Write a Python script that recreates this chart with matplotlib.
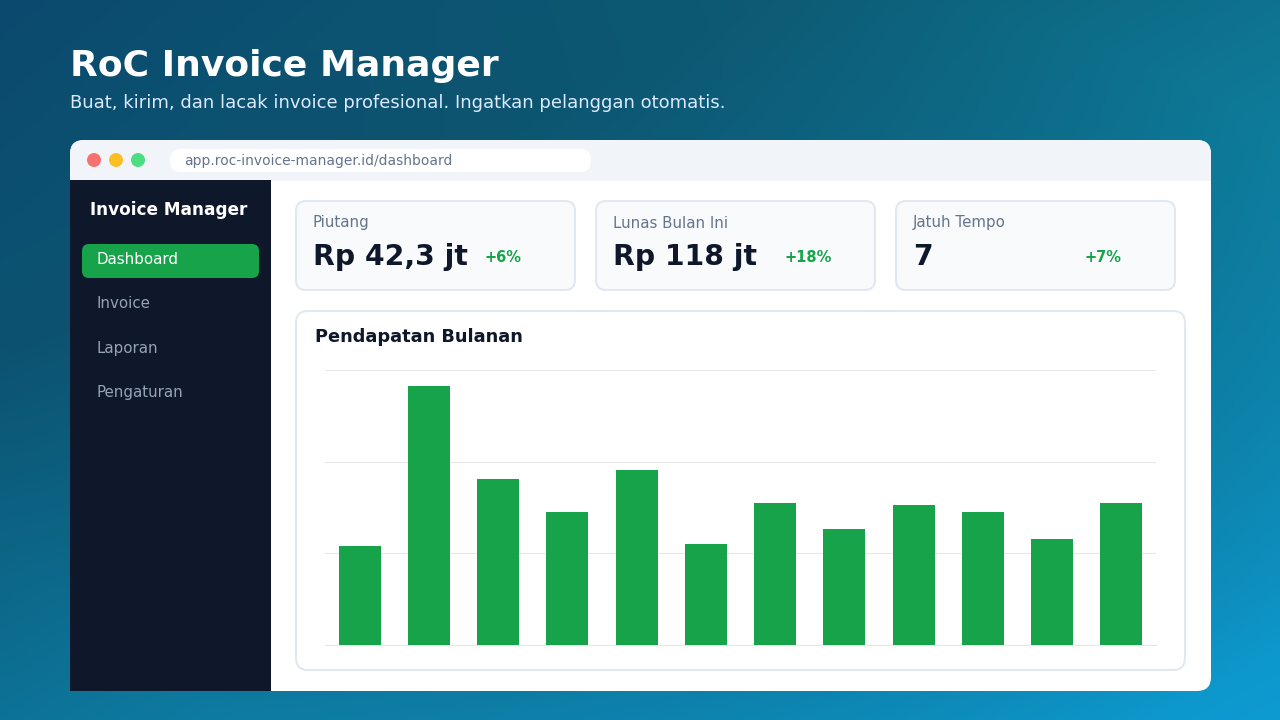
import numpy as np
import matplotlib
matplotlib.use("Agg")
import matplotlib.pyplot as plt
from matplotlib.patches import FancyBboxPatch, Rectangle, Circle

months = ["Jan","Feb","Mar","Apr","Mei","Jun","Jul","Agu","Sep","Okt","Nov","Des"]
revenue = [108, 283, 181, 145, 191, 110, 155, 127, 153, 145, 116, 155]
kpi_labels = ["Piutang", "Lunas Bulan Ini", "Jatuh Tempo"]
kpi_values = ["Rp 42,3 jt", "Rp 118 jt", "7"]
kpi_deltas = ["+6%", "+18%", "+7%"]
menu = ["Dashboard", "Invoice", "Laporan", "Pengaturan"]

W, H = 1280, 720
fig = plt.figure(figsize=(12.8, 7.2), dpi=100)
bg = fig.add_axes([0, 0, 1, 1])
bg.set_xlim(0, W); bg.set_ylim(H, 0); bg.axis("off")

yy, xx = np.mgrid[0:1:200j, 0:1:360j]
c1 = np.array([0x0b, 0x4a, 0x6e]) / 255
c2 = np.array([0x11, 0x7a, 0x80]) / 255
c3 = np.array([0x0c, 0xa3, 0xe6]) / 255
t = np.clip(xx * 0.6 + yy * 0.4, 0, 1)[..., None]
s = np.clip(xx * 0.5 + yy * 0.6 - 0.3, 0, 1)[..., None]
img = c1 * (1 - t) + c2 * t
img = img * (1 - s) + c3 * s
d = np.clip(1 - ((xx - 0.55) ** 2 * 3 + (yy - 0.55) ** 2 * 3), 0, 1)[..., None]
img = img * (1 - 0.25 * d) + np.array([0x0b, 0x3a, 0x5a]) / 255 * 0.25 * d
bg.imshow(img, extent=[0, W, H, 0], aspect="auto", zorder=0)

def rbox(x, y, w, h, r, fc, ec="none", lw=0, z=1):
    bg.add_patch(FancyBboxPatch((x + r, y + r), w - 2 * r, h - 2 * r,
                                boxstyle=f"round,pad={r}", fc=fc, ec=ec, lw=lw, zorder=z))

bg.text(70, 66, "RoC Invoice Manager", color="white", fontsize=26, fontweight="bold", va="center")
bg.text(70, 103, "Buat, kirim, dan lacak invoice profesional. Ingatkan pelanggan otomatis.",
        color="#dbeafe", fontsize=13, va="center")

rbox(70, 140, 1141, 551, 14, "white", z=1)
rbox(70, 140, 1141, 40, 14, "#f1f5f9", z=2)
bg.add_patch(Rectangle((70, 165), 1141, 16, fc="#f1f5f9", zorder=2))
for cx, col in [(94, "#f87171"), (116, "#fbbf24"), (138, "#4ade80")]:
    bg.add_patch(Circle((cx, 160), 7, fc=col, zorder=3))
rbox(170, 149, 421, 23, 11, "white", z=3)
bg.text(184, 160.5, "app.roc-invoice-manager.id/dashboard", color="#64748b", fontsize=10, va="center", zorder=4)

bg.add_patch(Rectangle((70, 180), 201, 511, fc="#0f172a", zorder=2))
bg.text(90, 210, "Invoice Manager", color="white", fontsize=12.2, fontweight="bold", va="center", zorder=3)
rbox(82, 244, 177, 34, 7, "#16a34a", z=3)
for i, m in enumerate(menu):
    bg.text(96, 260 + 44 * i, m, color="white" if i == 0 else "#94a3b8", fontsize=10.8, va="center", zorder=4)

for i in range(3):
    x = 296 + 300 * i
    rbox(x, 201, 279, 89, 10, "#f8fafc", "#e2e8f0", 1.5, z=3)
    bg.text(x + 17, 223, kpi_labels[i], color="#64748b", fontsize=10.8, va="center", zorder=4)
    bg.text(x + 17, 257, kpi_values[i], color="#0f172a", fontsize=20.3, fontweight="bold", va="center", zorder=4)
    bg.text(x + 189, 257, kpi_deltas[i], color="#16a34a", fontsize=10.5, fontweight="bold", va="center", zorder=4)

rbox(296, 311, 889, 359, 12, "white", "#e2e8f0", 1.5, z=3)
bg.text(315, 337, "Pendapatan Bulanan", color="#0f172a", fontsize=12.8, fontweight="bold", va="center", zorder=4)

ax = fig.add_axes([325 / W, 1 - 645 / H, (1156 - 325) / W, (645 - 370) / H])
ax.set_zorder(5)
ax.patch.set_alpha(0)
x = np.arange(len(revenue))
ax.bar(x, revenue, width=0.61, color="#16a34a", zorder=3)
ax.set_xlim(-0.5, len(revenue) - 0.5)
ax.set_ylim(0, 300)
ax.set_yticks([0, 100, 200, 300])
ax.grid(axis="y", color="#e5e7eb", lw=0.8, zorder=0)
ax.tick_params(left=False, bottom=False, labelleft=False, labelbottom=False)
for sp in ax.spines.values():
    sp.set_visible(False)
ax.axhline(0, color="#e5e7eb", lw=0.8, zorder=0, clip_on=False)

fig.savefig("out.png", dpi=100)
